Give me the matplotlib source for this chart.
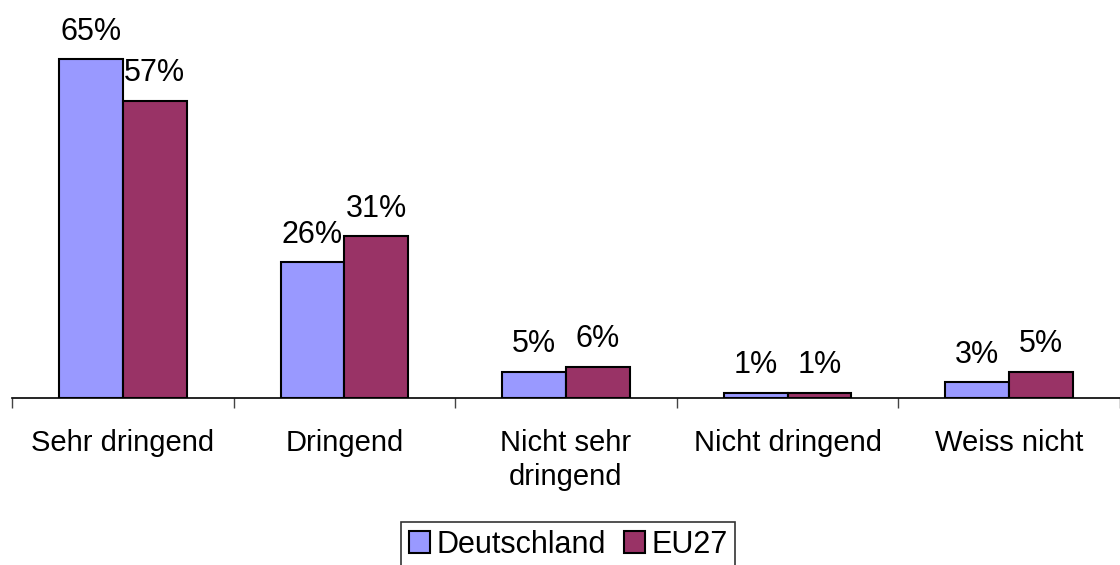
import matplotlib
matplotlib.use("Agg")
import matplotlib.pyplot as plt
import numpy as np

plt.rcParams['font.family'] = ['Liberation Sans', 'DejaVu Sans']

# data
categories = ['Sehr dringend', 'Dringend', 'Nicht sehr\ndringend', 'Nicht dringend', 'Weiss nicht']
deutschland = [65, 26, 5, 1, 3]
eu27 = [57, 31, 6, 1, 5]
series_names = ['Deutschland', 'EU27']
colors = ['#9999FF', '#993366']

fig = plt.figure(figsize=(11.2, 5.65), dpi=100)
ax = fig.add_axes([12/1120, (565-398)/565, 1108/1120, 365/565])

x = np.arange(len(categories))
w = 0.2875
bars1 = ax.bar(x - w/2, deutschland, w, color=colors[0], edgecolor='black', linewidth=1.5, label=series_names[0])
bars2 = ax.bar(x + w/2, eu27, w, color=colors[1], edgecolor='black', linewidth=1.5, label=series_names[1])

# value labels above the bars
for bars, vals in ((bars1, deutschland), (bars2, eu27)):
    for b, v in zip(bars, vals):
        ax.annotate(f'{v}%', (b.get_x() + b.get_width()/2, v), xytext=(0, 14),
                    textcoords='offset points', ha='center', va='baseline',
                    fontsize=22, annotation_clip=False)

ax.set_xlim(-0.5, len(categories) - 0.5)
ax.set_ylim(0, 70)

for s in ['top', 'right', 'left']:
    ax.spines[s].set_visible(False)
ax.spines['bottom'].set_linewidth(1.2)
ax.set_yticks([])

# labels at centres, tick marks at category boundaries
ax.set_xticks(x)
ax.set_xticklabels(categories, fontsize=21, linespacing=1.3)
ax.tick_params(axis='x', which='major', length=0, pad=22)
ax.set_xticks(np.arange(-0.5, len(categories), 1), minor=True)
ax.tick_params(axis='x', which='minor', length=7, width=1, color='#444444')

leg = fig.legend(loc='upper center', bbox_to_anchor=(568/1120, 1 - 522/565), ncol=2,
                 fontsize=22, frameon=True, fancybox=False, edgecolor='black',
                 handlelength=0.7, handleheight=0.7, handletextpad=0.2,
                 columnspacing=0.6, borderpad=0.25, borderaxespad=0)
leg.get_frame().set_linewidth(1.2)

fig.savefig('out.png', dpi=100)
